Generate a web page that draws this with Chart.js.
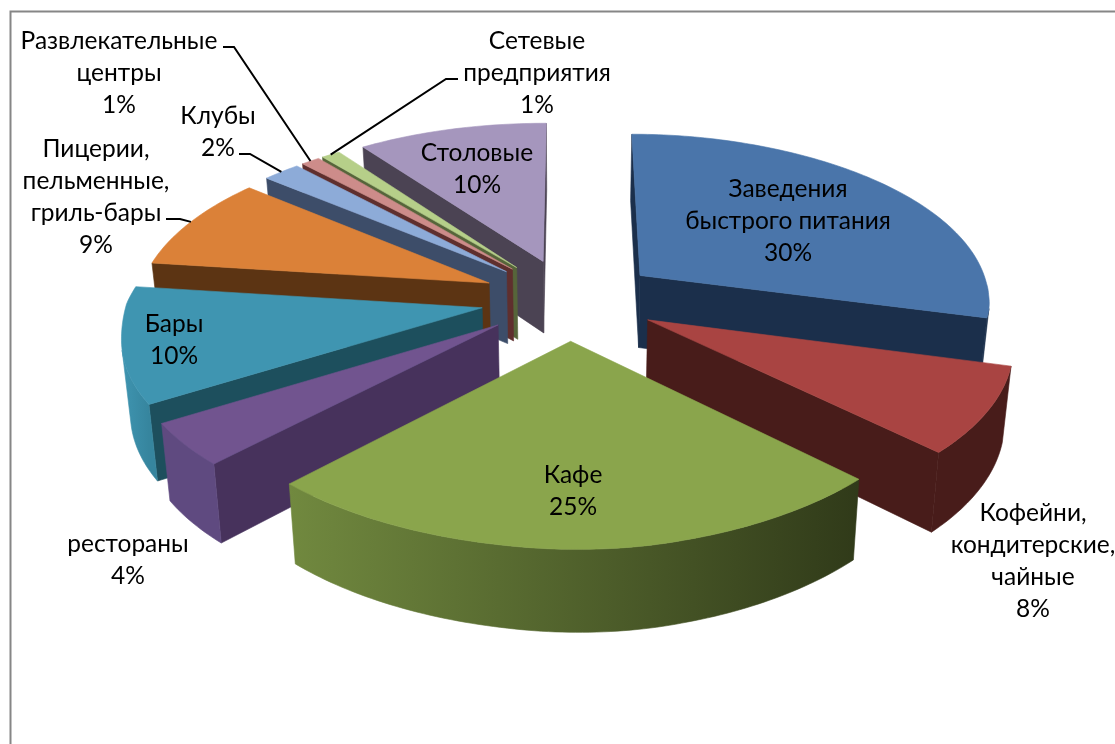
<!DOCTYPE html>
<html>
<head>
<meta charset="utf-8">
<style>
    html, body { margin: 0; padding: 0; background: #fff; }
    canvas { display: block; }
</style>
<script src="https://cdn.jsdelivr.net/npm/chart.js@4/dist/chart.umd.min.js"></script>
</head>
<body>
<canvas id="myChart" width="1115" height="744"></canvas>
<script>
const categories = [
    ["Заведения", "быстрого питания"],
    ["Кофейни,", "кондитерские,", "чайные"],
    ["Кафе"],
    ["рестораны"],
    ["Бары"],
    ["Пицерии,", "пельменные,", "гриль-бары"],
    ["Клубы"],
    ["Развлекательные", "центры"],
    ["Сетевые", "предприятия"],
    ["Столовые"],
];
const shares = [30, 8, 25, 4, 10, 9, 2, 1, 1, 10];

const topColors = ["#4a75aa", "#a94442", "#8aa54c", "#71548f", "#3f95b1", "#db8138", "#8dabd8", "#cd8c8a", "#b6cf89", "#a596bd"];
const wallColors = ["#1b2f4b", "#481c1a", "#3f4d22", "#47325c", "#1d4f5d", "#5c3413", "#3d4d69", "#5f2f2e", "#56653a", "#4b4353"];
const rimLeftColors = ["#1b2f4b", "#481c1a", "#71893f", "#5f4a80", "#3f95b1", "#5c3413", "#3d4d69", "#5f2f2e", "#56653a", "#4b4353"];
const rimRightColors = ["#1b2f4b", "#481c1a", "#303a19", "#5f4a80", "#36859e", "#5c3413", "#3d4d69", "#5f2f2e", "#56653a", "#4b4353"];

// text centre of the first line of every label, px
const labelCenters = [[788, 189], [1033, 513], [573, 475], [128, 544], [174, 324], [96, 149], [218, 116], [119, 41], [537, 41], [477, 153]];
// [slice, line start, elbow]
const leaders = [
    [7, [223, 47], [234, 47]],
    [8, [458, 79], [446, 79]],
    [6, [239, 154], [250, 154]],
    [5, [166, 219], [180, 219]],
];

// camera of the tilted pie
const cam = { cx: 567, cy: 299, rx: 355, ry: 166.6, persp: 0.137, depth: 73, taper: 0.02, explode: 0.245 };

function project(u, v, z) {
    const w = 1 / (1 - cam.persp * v);
    const s = 1 - cam.taper * z;
    let dx = cam.rx * u * w * s;
    // back left part sits a little closer to the centre
    if (dx < 0) dx *= 1 - 0.01 * Math.min(1, Math.max(0, -v / 0.2));
    const t = Math.min(1, Math.max(0, (v + 0.1) / 0.3));
    const vf = Math.max(0, v);
    // the picture is not a clean perspective, front part leans a bit
    const lean = 15 * vf
        + 10 * vf * vf * vf * Math.min(1, Math.max(0, 0.5 - dx / 200))
        + 4 * Math.exp(-Math.pow((dx - 60) / 100, 2));
    const x = cam.cx + dx + lean;
    const y = cam.cy + cam.ry * v * w * s + cam.depth * z * w - 0.025 * dx * t;
    return [x, y];
}

function polyArea(pts) {
    let a = 0;
    pts.forEach((p, i) => {
        const q = pts[(i + 1) % pts.length];
        a += p[0] * q[1] - q[0] * p[1];
    });
    return a / 2;
}

function fillPoly(ctx, pts, fill) {
    ctx.beginPath();
    pts.forEach((p, i) => (i ? ctx.lineTo(p[0], p[1]) : ctx.moveTo(p[0], p[1])));
    ctx.closePath();
    ctx.fillStyle = fill;
    ctx.strokeStyle = fill;
    ctx.lineWidth = 0.6;
    ctx.fill();
    ctx.stroke();
}

// slice geometry comes from the angles chart.js computed for the arc elements
function sliceGeometry(arc) {
    const a0 = arc.startAngle + Math.PI / 2;
    const a1 = arc.endAngle + Math.PI / 2;
    const mid = (a0 + a1) / 2;
    const ou = Math.sin(mid) * cam.explode;
    const ov = -Math.cos(mid) * cam.explode;
    const rim = [];
    const steps = Math.max(2, Math.ceil((a1 - a0) * 180 / Math.PI));
    for (let i = 0; i <= steps; i++) {
        const a = a0 + (a1 - a0) * i / steps;
        rim.push([ou + Math.sin(a), ov - Math.cos(a)]);
    }
    return { mid, ou, ov, rim };
}

function drawSlice(ctx, arc, i) {
    const g = sliceGeometry(arc);
    const at = (p, z) => project(p[0], p[1], z);
    const apex = [g.ou, g.ov];
    const first = g.rim[0];
    const last = g.rim[g.rim.length - 1];

    const startWall = [at(apex, 0), at(first, 0), at(first, 1), at(apex, 1)];
    const endWall = [at(last, 0), at(apex, 0), at(apex, 1), at(last, 1)];
    if (polyArea(startWall) < 0) fillPoly(ctx, startWall, wallColors[i]);
    if (polyArea(endWall) < 0) fillPoly(ctx, endWall, wallColors[i]);

    const xs = g.rim.map((p) => at(p, 0)[0]);
    const grad = ctx.createLinearGradient(Math.min(...xs), 0, Math.max(...xs), 0);
    grad.addColorStop(0, rimLeftColors[i]);
    grad.addColorStop(1, rimRightColors[i]);
    // outer wall: one polygon per run of rim steps that face the viewer
    let run = [];
    const flush = () => {
        if (run.length > 1) {
            const bottom = run.map((p) => at(p, 1)).reverse();
            fillPoly(ctx, run.map((p) => at(p, 0)).concat(bottom), grad);
        }
        run = [];
    };
    for (let k = 0; k < g.rim.length - 1; k++) {
        const strip = [at(g.rim[k], 0), at(g.rim[k + 1], 0), at(g.rim[k + 1], 1), at(g.rim[k], 1)];
        if (polyArea(strip) < 0) {
            if (!run.length) run.push(g.rim[k]);
            run.push(g.rim[k + 1]);
        } else {
            flush();
        }
    }
    flush();

    fillPoly(ctx, [at(apex, 0)].concat(g.rim.map((p) => at(p, 0))), arc.options.backgroundColor);
}

const pie3d = {
    id: "pie3d",
    beforeDraw(chart) {
        const ctx = chart.ctx;
        ctx.save();
        ctx.fillStyle = "#fff";
        ctx.fillRect(0, 0, chart.width, chart.height);
        ctx.strokeStyle = "#868686";
        ctx.lineWidth = 2;
        ctx.beginPath();
        ctx.moveTo(10.5, chart.height);
        ctx.lineTo(10.5, 11.5);
        ctx.lineTo(chart.width, 11.5);
        ctx.stroke();
        ctx.restore();
    },
    beforeDatasetDraw(chart) {
        const ctx = chart.ctx;
        const arcs = chart.getDatasetMeta(0).data;
        const order = arcs.map((arc, i) => i).sort((a, b) => {
            const ma = (arcs[a].startAngle + arcs[a].endAngle) / 2 + Math.PI / 2;
            const mb = (arcs[b].startAngle + arcs[b].endAngle) / 2 + Math.PI / 2;
            return -Math.cos(ma) - -Math.cos(mb);
        });
        ctx.save();
        order.forEach((i) => drawSlice(ctx, arcs[i], i));
        ctx.restore();
        return false;
    },
    afterDraw(chart) {
        const ctx = chart.ctx;
        const arcs = chart.getDatasetMeta(0).data;
        ctx.save();
        ctx.strokeStyle = "#000";
        ctx.lineWidth = 2;
        leaders.forEach(([i, from, elbow]) => {
            const g = sliceGeometry(arcs[i]);
            const end = project(g.ou + Math.sin(g.mid), g.ov - Math.cos(g.mid), 0);
            ctx.beginPath();
            ctx.moveTo(from[0], from[1]);
            ctx.lineTo(elbow[0], elbow[1]);
            ctx.lineTo(end[0], end[1]);
            ctx.stroke();
        });
        ctx.fillStyle = "#000";
        ctx.font = '24.5px Lato, "Open Sans", sans-serif';
        ctx.textAlign = "center";
        ctx.textBaseline = "middle";
        categories.forEach((lines, i) => {
            const [x, y] = labelCenters[i];
            lines.concat(shares[i] + "%").forEach((line, k) => ctx.fillText(line, x, y + k * 32));
        });
        ctx.restore();
    },
};

const ctx = document.getElementById("myChart").getContext("2d");
new Chart(ctx, {
    type: "pie",
    data: {
        labels: categories.map((lines) => lines.join(" ")),
        datasets: [{ data: shares, backgroundColor: topColors, borderWidth: 0 }],
    },
    options: {
        responsive: false,
        animation: false,
        plugins: { legend: { display: false }, tooltip: { enabled: false } },
    },
    plugins: [pie3d],
});
</script>
</body>
</html>
